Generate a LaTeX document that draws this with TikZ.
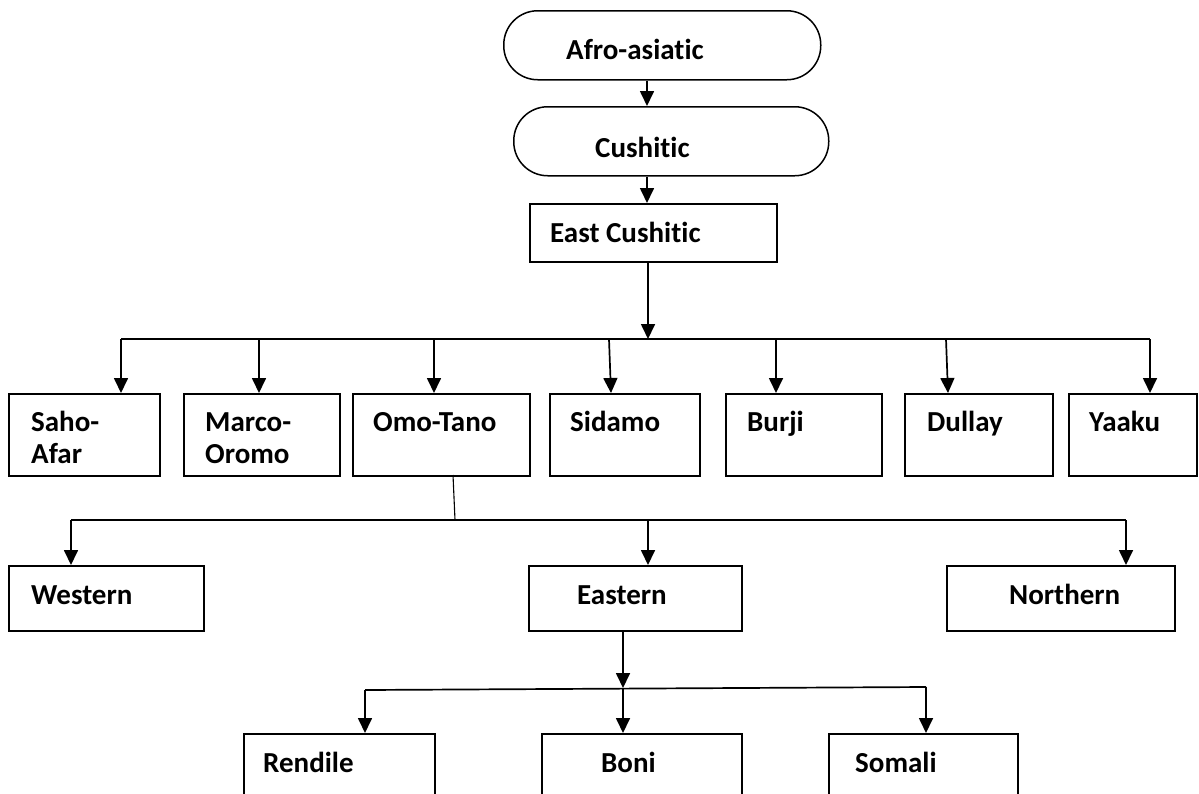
\documentclass[tikz,border=0pt]{standalone}
\usepackage{fontspec}
\setmainfont{Carlito}[Ligatures=NoCommon]
\usetikzlibrary{arrows.meta}
\begin{document}
\begin{tikzpicture}[x=1pt,y=-1pt,
  box/.style={draw, line width=1.7pt, inner sep=0pt, anchor=north west},
  stad/.style={draw, line width=1.5pt, inner sep=0pt, anchor=north west, rounded corners=34pt},
  lbl/.style={anchor=base west, inner sep=0pt, font=\fontsize{29}{33}\selectfont\bfseries},
  arr/.style={line width=1.7pt, -{Triangle[length=15pt,width=14pt]}},
  ln/.style={line width=1.7pt},
  thin/.style={line width=1.1pt}]
\useasboundingbox (0,0) rectangle (1199,793);
\clip (0,0) rectangle (1199,793);
% top
\node[stad, minimum width=317pt, minimum height=69pt] (afro) at (503,10) {};
\node[lbl] (tafro) at (566,59) {Afro-asiatic};
\node[stad, minimum width=315pt, minimum height=69pt] (cush) at (513,106) {};
\node[lbl] (tcush) at (595,157) {Cushitic};
\node[box, minimum width=247pt, minimum height=58pt] (ec) at (529,203) {};
\node[lbl] (tec) at (550,242) {East Cushitic};
\coordinate (xa) at (647,0);
\draw[arr] (afro.south -| xa) -- (cush.north -| xa);
\draw[arr] (cush.south -| xa) -- (ec.north -| xa);
% row 1
\node[box, minimum width=151pt, minimum height=82pt] (saho) at (8,393) {};
\node[lbl] (tsaho) at (31,431) {Saho-};
\node[lbl] (tsaho2) at (31,463) {Afar};
\node[box, minimum width=156pt, minimum height=82pt] (marco) at (183,393) {};
\node[lbl] (tmarco) at (205,431) {Marco-};
\node[lbl] (tmarco2) at (205,463) {Oromo};
\node[box, minimum width=177pt, minimum height=82pt] (omo) at (352,393) {};
\node[lbl] (tomo) at (373,431) {Omo-Tano};
\node[box, minimum width=150pt, minimum height=82pt] (sid) at (549,393) {};
\node[lbl] (tsid) at (570,431) {Sidamo};
\node[box, minimum width=156pt, minimum height=82pt] (bur) at (725,393) {};
\node[lbl] (tbur) at (747,431) {Burji};
\node[box, minimum width=148pt, minimum height=82pt] (dul) at (904,393) {};
\node[lbl] (tdul) at (927,431) {Dullay};
\node[box, minimum width=128pt, minimum height=82pt] (yaa) at (1068,393) {};
\node[lbl] (tyaa) at (1089,431) {Yaaku};
\coordinate (j1) at (648,339);
\coordinate (b1l) at (121,339);
\coordinate (b1r) at (1150,339);
\draw[arr] (ec.south -| j1) -- (j1);
\draw[ln] (b1l) -- (b1r);
\draw[arr] (b1l) -- (b1l |- saho.north);
\draw[arr] (259,339) coordinate (k2) -- (k2 |- marco.north);
\draw[arr] (434,339) coordinate (k3) -- (k3 |- omo.north);
\draw[arr] (609,339) coordinate (k4) -- (611,393);
\draw[arr] (776,339) coordinate (k5) -- (k5 |- bur.north);
\draw[arr] (946,339) coordinate (k6) -- (948,393);
\draw[arr] (b1r) -- (b1r |- yaa.north);
% row 2
\node[box, minimum width=195pt, minimum height=65pt] (west) at (8,565) {};
\node[lbl] (twest) at (31,604) {Western};
\node[box, minimum width=213pt, minimum height=65pt] (east) at (528,565) {};
\node[lbl] (teast) at (577,604) {Eastern};
\node[box, minimum width=228pt, minimum height=65pt] (north) at (946,565) {};
\node[lbl] (tnorth) at (1009,604) {Northern};
\coordinate (o1) at (453,475);
\coordinate (j2) at (455,520);
\coordinate (b2l) at (71,520);
\coordinate (b2r) at (1126,520);
\draw[thin] (o1) -- (j2);
\draw[ln] (b2l) -- (b2r);
\draw[arr] (b2l) -- (b2l |- west.north);
\draw[arr] (648,520) coordinate (m2) -- (m2 |- east.north);
\draw[arr] (b2r) -- (b2r |- north.north);
% row 3
\node[box, minimum width=191pt, minimum height=80pt] (ren) at (243,733) {};
\node[lbl] (tren) at (263,772) {Rendile};
\node[box, minimum width=200pt, minimum height=80pt] (boni) at (541,733) {};
\node[lbl] (tboni) at (601,772) {Boni};
\node[box, minimum width=189pt, minimum height=80pt] (som) at (828,733) {};
\node[lbl] (tsom) at (855,772) {Somali};
\coordinate (j3) at (623,688);
\coordinate (b3l) at (365,690);
\coordinate (b3r) at (926,687);
\draw[arr] (east.south -| j3) -- (j3);
\draw[ln] (b3l) -- (b3r);
\draw[arr] (b3l) -- (b3l |- ren.north);
\draw[arr] (j3) -- (j3 |- boni.north);
\draw[arr] (b3r) -- (b3r |- som.north);
\end{tikzpicture}
\end{document}
